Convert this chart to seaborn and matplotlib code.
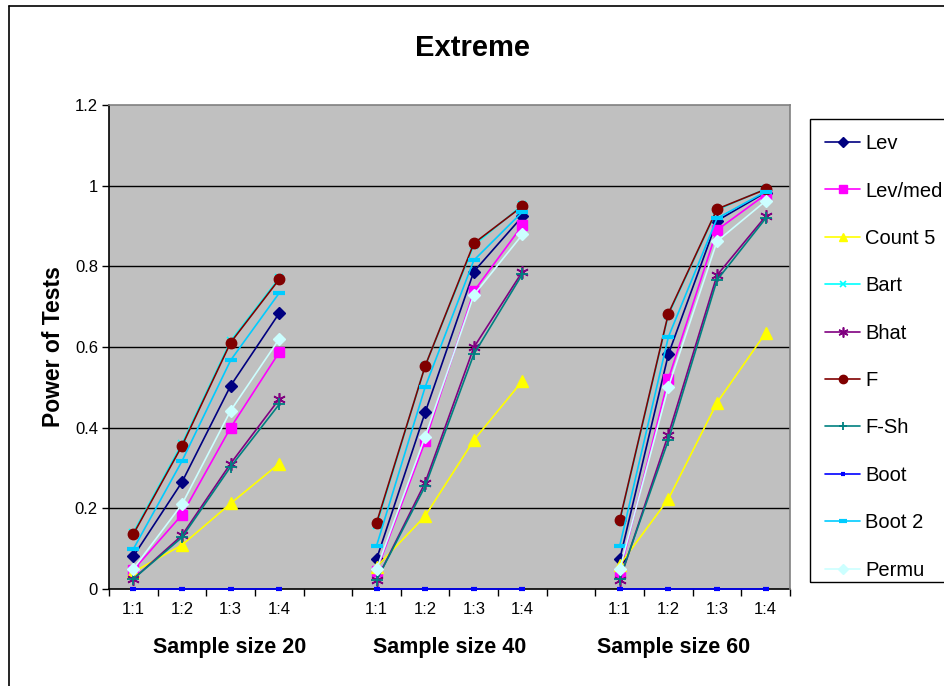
import numpy as np
import pandas as pd
import matplotlib
matplotlib.use("Agg")
import matplotlib.pyplot as plt
from matplotlib.lines import Line2D
from matplotlib.patches import Rectangle
import seaborn as sns

# ---- data -------------------------------------------------------------
ratios = ["1:1", "1:2", "1:3", "1:4"]
groups = ["Sample size 20", "Sample size 40", "Sample size 60"]
tests = ["Lev", "Lev/med", "Count 5", "Bart", "Bhat", "F", "F-Sh", "Boot", "Boot 2", "Permu"]

lev     = [0.081, 0.265, 0.504, 0.684,  0.074, 0.438, 0.787, 0.924,  0.074, 0.582, 0.913, 0.983]
lev_med = [0.047, 0.184, 0.400, 0.587,  0.045, 0.366, 0.738, 0.902,  0.040, 0.521, 0.890, 0.978]
count5  = [0.042, 0.109, 0.212, 0.311,  0.055, 0.181, 0.369, 0.516,  0.060, 0.223, 0.462, 0.635]
bart    = [0.140, 0.360, 0.615, 0.771,  0.158, 0.553, 0.852, 0.952,  0.168, 0.680, 0.940, 0.992]
bhat    = [0.025, 0.133, 0.311, 0.471,  0.022, 0.264, 0.599, 0.787,  0.022, 0.383, 0.778, 0.924]
f_test  = [0.136, 0.355, 0.611, 0.768,  0.164, 0.553, 0.857, 0.949,  0.171, 0.683, 0.942, 0.991]
f_sh    = [0.025, 0.128, 0.303, 0.458,  0.022, 0.255, 0.582, 0.781,  0.025, 0.369, 0.766, 0.919]
boot    = [0.0, 0.0, 0.0, 0.0,          0.0, 0.0, 0.0, 0.0,          0.0, 0.0, 0.0, 0.0]
boot2   = [0.099, 0.317, 0.567, 0.734,  0.107, 0.501, 0.815, 0.935,  0.107, 0.625, 0.919, 0.985]
permu   = [0.050, 0.210, 0.442, 0.620,  0.049, 0.378, 0.729, 0.879,  0.049, 0.501, 0.862, 0.962]

series = [lev, lev_med, count5, bart, bhat, f_test, f_sh, boot, boot2, permu]

# ---- styles per test ----------------------------------------------------
styles = {
    "Lev":     dict(color="#000080", marker="D", ms=6.5, mew=1),
    "Lev/med": dict(color="#FF00FF", marker="s", ms=6.5, mew=1),
    "Count 5": dict(color="#FFFF00", marker="^", ms=8, mew=1),
    "Bart":    dict(color="#00FFFF", marker="x", ms=6, mew=1.2),
    "Bhat":    dict(color="#800080", marker=(6, 2, 0), ms=9, mew=1.2),
    "F":       dict(color="#800000", marker="o", ms=7.5, mew=1),
    "F-Sh":    dict(color="#008080", marker="+", ms=8, mew=1.3),
    "Boot":    dict(color="#0000FF", marker="_", ms=4, mew=3),
    "Boot 2":  dict(color="#00CCFF", marker="_", ms=8, mew=3),
    "Permu":   dict(color="#CCFFFF", marker="D", ms=6.5, mew=1),
}

rows = []
for test, vals in zip(tests, series):
    for gi, grp in enumerate(groups):
        for ri, rat in enumerate(ratios):
            rows.append(dict(test=test, group=grp, pos=gi * 5 + ri,
                             value=vals[gi * 4 + ri]))
df = pd.DataFrame(rows)

# ---- figure -------------------------------------------------------------
sns.set_theme(style="white")
plt.rcParams["font.family"] = ["Liberation Sans", "DejaVu Sans"]
plt.rcParams.update({"text.color": "black", "axes.labelcolor": "black",
                     "xtick.color": "black", "ytick.color": "black"})

W, H = 945, 686
fig = plt.figure(figsize=(W / 100, H / 100), dpi=100)
fig.patch.set_facecolor("white")

ax = fig.add_axes([109 / W, 1 - 589 / H, (790 - 109) / W, (589 - 105) / H])
ax.set_facecolor("#C0C0C0")

for z, test in enumerate(tests):
    st = styles[test]
    sub = df[df["test"] == test]
    for grp in groups:
        g = sub[sub["group"] == grp]
        sns.lineplot(data=g, x="pos", y="value", ax=ax, color=st["color"],
                     marker=st["marker"], markersize=st["ms"],
                     markeredgecolor=st["color"], markeredgewidth=st["mew"],
                     linewidth=1.2, estimator=None, legend=False,
                     zorder=3 + z, clip_on=False)

ax.set_xlim(-0.5, 13.5)
ax.set_ylim(0, 1.2)

# horizontal gridlines
yt = np.arange(0, 1.21, 0.2)
ax.set_yticks(yt)
ax.set_yticklabels(["0", "0.2", "0.4", "0.6", "0.8", "1", "1.2"], fontsize=12)
for y in yt[1:-1]:
    ax.axhline(y, color="black", linewidth=1, zorder=1)

# category boundaries as major ticks, labels on minor ticks
ax.set_xticks(np.arange(-0.5, 13.6, 1.0))
ax.set_xticklabels([])
centers = np.arange(14)
labels = ["" if i % 5 == 4 else ratios[i % 5] for i in centers]
ax.set_xticks(centers, minor=True)
ax.set_xticklabels(labels, minor=True, fontsize=12)
ax.tick_params(axis="x", which="major", direction="out", length=5, width=1,
               color="black", bottom=True)
ax.tick_params(axis="x", which="minor", length=0, pad=9)
ax.tick_params(axis="y", direction="out", length=5, width=1, color="black",
               left=True, pad=3)
ax.set_xlabel("")
ax.set_ylabel("Power of Tests", fontsize=16.5, fontweight="bold", labelpad=7)

for side in ["left", "bottom"]:
    ax.spines[side].set_color("black")
    ax.spines[side].set_linewidth(1.2)
for side in ["top", "right"]:
    ax.spines[side].set_color("#808080")
    ax.spines[side].set_linewidth(1.2)
ax.spines["bottom"].set_zorder(2)

# title and group captions
fig.text(473 / W, 1 - 48 / H, "Extreme", ha="center", va="center",
         fontsize=21, fontweight="bold")
for cx, grp in zip([230, 450, 674], groups):
    fig.text(cx / W, 1 - 647 / H, grp, ha="center", va="center",
             fontsize=15.5, fontweight="bold")

# legend (entries without frame; box drawn separately)
handles = []
for test in tests:
    st = styles[test]
    handles.append(Line2D([], [], color=st["color"], marker=st["marker"],
                          markersize=st["ms"] * 0.8, markeredgecolor=st["color"],
                          markeredgewidth=st["mew"], linewidth=1.2))
leg = fig.legend(handles, tests, loc="upper left",
                 bbox_to_anchor=(810 / W, 1 - 119 / H), frameon=False,
                 fontsize=14.5, handlelength=1.75, handletextpad=0.25,
                 labelspacing=1.41, borderpad=0.75, borderaxespad=0)
for t in leg.get_texts():
    t.set_color("black")
fig.add_artist(Rectangle((810 / W, 1 - 582 / H), 150 / W, (582 - 119) / H,
                         transform=fig.transFigure, fill=False,
                         edgecolor="black", linewidth=1.0))

# chart border
fig.add_artist(Line2D([9 / W, 1.0], [1 - 6 / H, 1 - 6 / H], color="black",
                      linewidth=1.2, transform=fig.transFigure))
fig.add_artist(Line2D([9 / W, 9 / W], [0.0, 1 - 6 / H], color="black",
                      linewidth=1.2, transform=fig.transFigure))

fig.savefig("out.png", dpi=100)
